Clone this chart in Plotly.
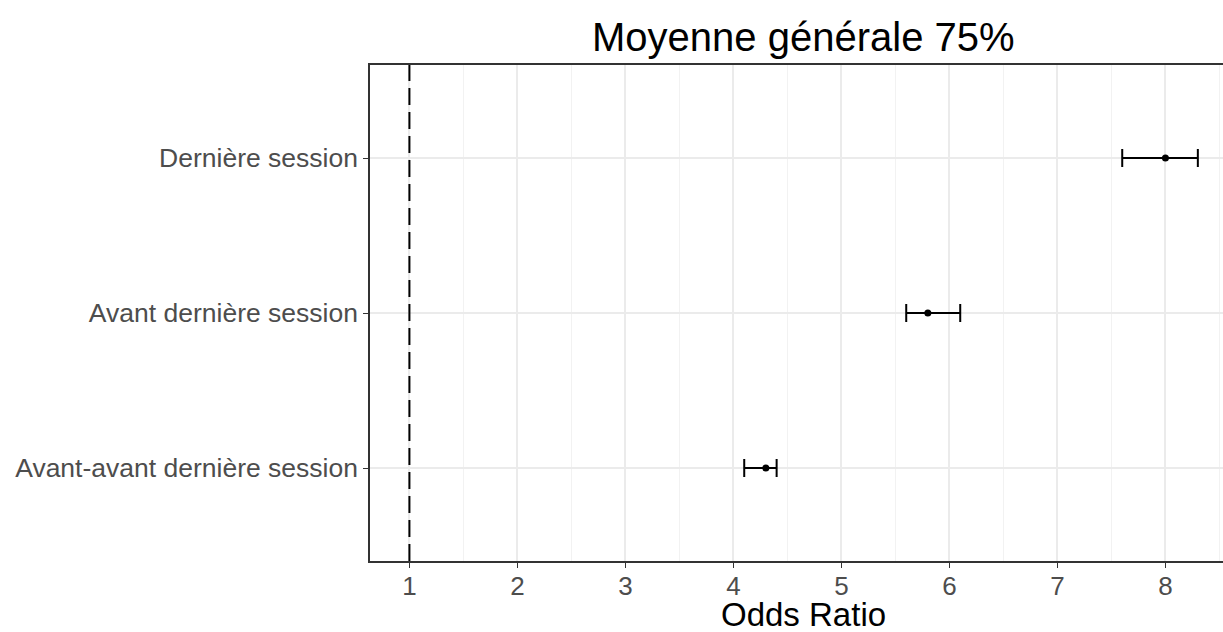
import plotly.graph_objects as go

# Odds ratios with confidence intervals, by session
sessions = ["Avant-avant dernière session", "Avant dernière session", "Dernière session"]
odds_ratio = [4.3, 5.8, 8.0]
ci_low = [4.1, 5.6, 7.6]
ci_high = [4.4, 6.1, 8.3]
reference_or = 1
x_ticks = [1, 2, 3, 4, 5, 6, 7, 8]
x_minor = [1.5, 2.5, 3.5, 4.5, 5.5, 6.5, 7.5, 8.5]

FONT = "Liberation Sans"
GRID = "#EBEBEB"
AXIS = "#4D4D4D"

fig = go.Figure()

fig.add_trace(go.Scatter(
    x=odds_ratio,
    y=sessions,
    mode="markers",
    marker=dict(color="black", size=7),
    error_x=dict(
        type="data",
        symmetric=False,
        array=[h - m for h, m in zip(ci_high, odds_ratio)],
        arrayminus=[m - l for m, l in zip(odds_ratio, ci_low)],
        color="black",
        thickness=2,
        width=9,
    ),
    showlegend=False,
    hoverinfo="x+y",
))

# Reference line at OR = 1
fig.add_shape(
    type="line", xref="x", yref="paper",
    x0=reference_or, x1=reference_or, y0=0, y1=1,
    line=dict(color="black", width=2, dash="17px,7px"),
    layer="above",
)

fig.update_layout(
    width=1223,
    height=632,
    margin=dict(l=370, r=0, t=65, b=71),
    paper_bgcolor="white",
    plot_bgcolor="white",
    font=dict(family=FONT, color=AXIS),
    title=dict(
        text="Moyenne générale 75%",
        font=dict(family=FONT, size=40, color="black"),
        x=0.508, xref="paper", xanchor="center",
        y=1 - 37 / 632, yref="container", yanchor="middle",
    ),
    xaxis=dict(
        range=[0.635, 8.533],
        tickvals=x_ticks,
        ticktext=[str(v) for v in x_ticks],
        tickfont=dict(size=26, color=AXIS),
        ticks="outside", ticklen=5, tickwidth=1.4, tickcolor="#333333",
        ticklabelstandoff=-4,
        showgrid=True, gridcolor=GRID, gridwidth=1.8,
        minor=dict(tickvals=x_minor, showgrid=True, gridcolor="#F2F2F2", gridwidth=1, ticks=""),
        showline=True, linecolor="#333333", linewidth=1.5, mirror=True,
        zeroline=False,
        fixedrange=True,
    ),
    yaxis=dict(
        type="category",
        categoryorder="array",
        categoryarray=sessions,
        range=[-0.6, 2.6],
        tickfont=dict(size=26.5, color=AXIS),
        ticks="outside", ticklen=5, tickwidth=1.4, tickcolor="#333333",
        showgrid=True, gridcolor=GRID, gridwidth=1.8,
        showline=True, linecolor="#333333", linewidth=1.5, mirror=False,
        zeroline=False,
        fixedrange=True,
    ),
    annotations=[dict(
        text="Odds Ratio",
        xref="paper", yref="paper",
        x=0.508, y=0, xanchor="center", yanchor="middle",
        yshift=-53,
        showarrow=False,
        font=dict(family=FONT, size=33, color="black"),
    )],
)

fig.write_html("out.html")
